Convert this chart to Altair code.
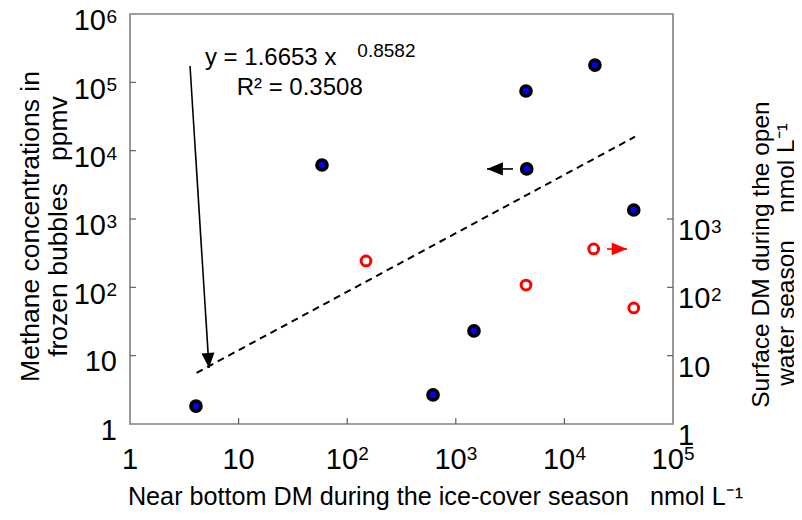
import altair as alt
import pandas as pd

# ---- data ----
blue_x = [4.05, 58.6, 4430, 19100, 4500, 43500, 1470, 617]
blue_y = [1.83, 6170, 74700, 179000, 5400, 1355, 23.0, 2.66]
red_x = [149, 18600, 4430, 43500]
red_y = [243, 364, 108, 50]
fit_x = [4.1, 44700]
fit_y = [5.6, 16000]

# annotation arrows (tail -> tip)
ann_arrow = {"x": [3.57], "y": [173000], "x2": [5.34], "y2": [6.6]}
left_arrow = {"x": [3365], "y": [5400], "x2": [1938], "y2": [5400]}
right_arrow = {"x": [24700], "y": [364], "x2": [37700], "y2": [364]}

eq_main = "y = 1.6653 x"
eq_exp = "0.8582"
eq_r2 = "R\u00b2 = 0.3508"
eq_pos = {"main": (4.9, 178000), "exp": (124, 235000), "r2": (9.6, 65000)}

# tick labels: plain ones, "10" bases with a superscript exponent
x_plain_vals, x_plain_text = [1, 10], ["1", "10"]
x_exp_vals, x_exp_text = [100, 1000, 10000, 100000], ["2", "3", "4", "5"]
yl_plain_vals, yl_plain_text = [1, 10], ["1", "10"]
yl_exp_vals, yl_exp_text = [100, 1000, 10000, 100000, 1000000], ["2", "3", "4", "5", "6"]
yr_plain_vals, yr_plain_text = [1, 10], ["1", "10"]
yr_exp_vals, yr_exp_text = [100, 1000], ["2", "3"]
# inner tick marks
x_inner = [10, 100, 1000, 10000]
yl_inner = [10, 100, 1000, 10000, 100000]
yr_inner = [10, 100, 1000]

NB = "\u00a0"
x_title = "Near bottom DM during the ice-cover season" + NB * 2 + " nmol L\u207b\u00b9"
yl_title = ["Methane concentrations in", "frozen bubbles" + NB * 2 + " ppmv"]
yr_title = ["Surface DM during the open", "water season" + NB * 3 + " nmol L\u207b\u00b9"]

FONT = "Liberation Sans"
LFS = 29   # tick label size
SFS = 19   # superscript size
xs = alt.Scale(type="log", domain=[1, 100000], nice=False)
ys = alt.Scale(type="log", domain=[1, 1000000], nice=False)

x_axis = alt.Axis(values=[1], labels=False, orient="bottom", title=x_title,
                  titleFontSize=25.2, titleX=305, titleY=80, titleAlign="center",
                  titleBaseline="alphabetic")
yl_axis = alt.Axis(values=[1], labels=False, orient="left", title=yl_title,
                   titleFontSize=26.5, titleAngle=270, titleX=-100, titleY=212,
                   titleAlign="center", titleBaseline="middle", titleLineHeight=28)
yr_axis = alt.Axis(values=[1], labels=False, orient="right", title=yr_title,
                   titleFontSize=24.5, titleAngle=270, titleX=88, titleY=240,
                   titleAlign="center", titleBaseline="middle", titleLineHeight=25)

blue_df = pd.DataFrame({"x": blue_x, "y": blue_y})
red_df = pd.DataFrame({"x": red_x, "y": red_y})
fit_df = pd.DataFrame({"x": fit_x, "y": fit_y})


def X(f):
    return alt.X(f, type="quantitative", scale=xs, axis=x_axis)


def Y(f, axis=None):
    return alt.Y(f, type="quantitative", scale=ys, axis=axis)


blue = alt.Chart(blue_df).mark_point(filled=True, fill="#0000ff", stroke="black",
                                     strokeWidth=3.7, size=100, opacity=1).encode(
    x=X("x"), y=Y("y", yl_axis))

red = alt.Chart(red_df).mark_point(filled=False, stroke="#ff0000", strokeWidth=3, size=95,
                                   opacity=1).encode(x=X("x"), y=Y("y", yr_axis))

fit = alt.Chart(fit_df).mark_line(color="black", strokeWidth=2, strokeDash=[7, 5]).encode(
    x=X("x"), y=Y("y"))


def arrow_rule(d, color):
    return alt.Chart(pd.DataFrame(d)).mark_rule(color=color, strokeWidth=1.6).encode(
        x=X("x"), y=Y("y"), x2="x2:Q", y2="y2:Q")


def arrow_head(d, color, shape, size, angle=0):
    return alt.Chart(pd.DataFrame(d)).mark_point(
        shape=shape, filled=True, color=color, size=size, angle=angle, opacity=1,
        strokeWidth=0).encode(x=X("x2"), y=Y("y2"))


down_head = "M0,0 L-0.52,-1.2 L0.52,-1.2 Z"
left_head = "M0,0 L1.2,-0.5 L1.2,0.5 Z"
right_head = "M0,0 L-1.2,-0.5 L-1.2,0.5 Z"


def txt(s, pos, size):
    return alt.Chart(pd.DataFrame({"x": [pos[0]], "y": [pos[1]], "t": [s]})).mark_text(
        align="left", baseline="alphabetic", font=FONT, fontSize=size, color="black").encode(
        x=X("x"), y=Y("y"), text="t:N")


def label_layer(vals, texts, along, fixed, size, align, dx, dy):
    df = pd.DataFrame({"v": vals, "t": texts, "f": [fixed] * len(vals)})
    mk = alt.Chart(df).mark_text(align=align, baseline="alphabetic", font=FONT,
                                 fontSize=size, color="black", dx=dx, dy=dy)
    if along == "x":
        return mk.encode(x=X("v"), y=Y("f"), text="t:N")
    return mk.encode(y=Y("v"), x=X("f"), text="t:N")


tick_labels = [
    # bottom axis
    label_layer(x_plain_vals, x_plain_text, "x", 1, LFS, "center", 0, 44.5),
    label_layer(x_exp_vals, ["10"] * len(x_exp_vals), "x", 1, LFS, "center", -5.3, 44.5),
    label_layer(x_exp_vals, x_exp_text, "x", 1, SFS, "left", 11, 35.5),
    # left axis
    label_layer(yl_plain_vals, yl_plain_text, "y", 1, LFS, "right", -13, 15.5),
    label_layer(yl_exp_vals, ["10"] * len(yl_exp_vals), "y", 1, LFS, "right", -24, 16.2),
    label_layer(yl_exp_vals, yl_exp_text, "y", 1, SFS, "left", -23.5, 9),
    # right axis
    label_layer(yr_plain_vals, yr_plain_text, "y", 100000, LFS, "left", 5, 20.9),
    label_layer(yr_exp_vals, ["10"] * len(yr_exp_vals), "y", 100000, LFS, "left", 5, 20.9),
    label_layer(yr_exp_vals, yr_exp_text, "y", 100000, SFS, "left", 38, 13.7),
]

tick_col = "#606060"
xt = alt.Chart(pd.DataFrame({"v": x_inner, "b": [1] * len(x_inner)})).mark_rule(
    color=tick_col, strokeWidth=1.2, y2Offset=-6).encode(x=X("v"), y=Y("b"), y2="b:Q")
ylt = alt.Chart(pd.DataFrame({"v": yl_inner, "b": [1] * len(yl_inner)})).mark_rule(
    color=tick_col, strokeWidth=1.2, x2Offset=6).encode(y=Y("v"), x=X("b"), x2="b:Q")
yrt = alt.Chart(pd.DataFrame({"v": yr_inner, "b": [100000] * len(yr_inner)})).mark_rule(
    color=tick_col, strokeWidth=1.2, x2Offset=-6).encode(y=Y("v"), x=X("b"), x2="b:Q")

layers = [
    blue,
    fit,
    arrow_rule(ann_arrow, "black"), arrow_head(ann_arrow, "black", down_head, 625, 356),
    arrow_rule(left_arrow, "black"), arrow_head(left_arrow, "black", left_head, 700),
    arrow_rule(right_arrow, "#ff0000"), arrow_head(right_arrow, "#ff0000", right_head, 650),
    txt(eq_main, eq_pos["main"], 24), txt(eq_exp, eq_pos["exp"], 19), txt(eq_r2, eq_pos["r2"], 24),
    xt, ylt, yrt,
    *tick_labels,
    red,
]

chart = alt.layer(*layers).resolve_axis(y="independent").properties(
    width=543, height=410,
    padding={"left": 122, "top": 6, "right": 121, "bottom": 88},
    autosize=alt.AutoSizeParams(type="none"),
).configure(font=FONT).configure_view(stroke="#808080", strokeWidth=1.6).configure_axis(
    domain=False, ticks=False, grid=False, labelFont=FONT, titleFont=FONT,
    labelColor="black", titleColor="black", titleFontWeight="normal")

chart.save("out.html", embed_options={"renderer": "svg", "actions": False})
